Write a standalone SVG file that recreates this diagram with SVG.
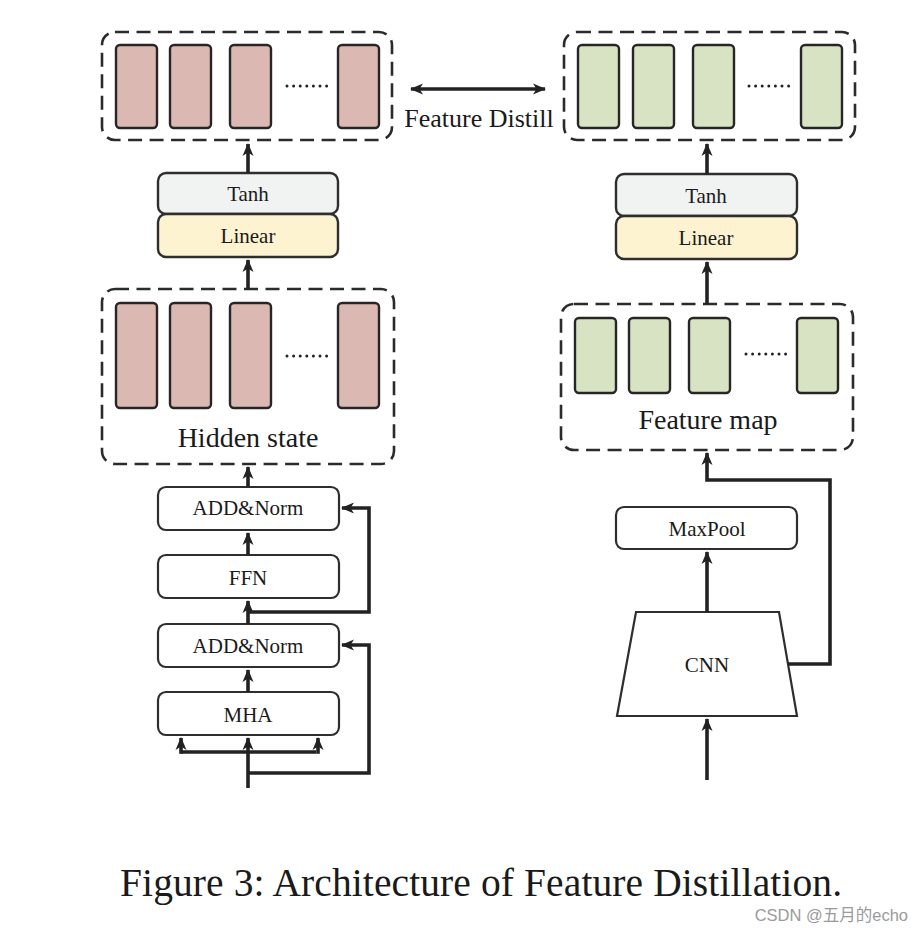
<svg xmlns="http://www.w3.org/2000/svg" width="923" height="928" viewBox="0 0 923 928">
<style>
.dash{fill:none;stroke:#2b2b2b;stroke-width:2.6;stroke-dasharray:14 7.5}
.pink{fill:#dcb8b2;stroke:#262626;stroke-width:2.4}
.green{fill:#d8e3c3;stroke:#262626;stroke-width:2.4}
.box{fill:#ffffff;stroke:#2e2e2e;stroke-width:2.2}
.tanh{fill:#f1f3f2;stroke:#2e2e2e;stroke-width:2.4}
.lin{fill:#fdf3d1;stroke:#2e2e2e;stroke-width:2.4}
.t{font-family:"Liberation Serif","Times New Roman",serif;fill:#1a1a1a;text-anchor:middle}
.s{font-size:21px}
.l{font-size:26px}
.xl{font-size:28px}
.dots{fill:none;stroke:#222;stroke-width:3;stroke-linecap:round;stroke-dasharray:0 6.6}
.c{fill:none;stroke:#222;stroke-width:3.6}
</style>
<defs>
<marker id="ah" viewBox="0 0 13 13" refX="12" refY="6.5" markerWidth="13" markerHeight="13" markerUnits="userSpaceOnUse" orient="auto-start-reverse">
<path d="M0,1 L13,6.5 L0,12 L3.5,6.5 z" fill="#222"/>
</marker>
</defs>
<rect width="923" height="928" fill="#ffffff"/>

<g id="teacher-output">
<rect class="dash" x="102" y="32" width="290" height="108" rx="13"/>
<rect class="pink" x="116" y="45" width="41" height="83" rx="4"/>
<rect class="pink" x="170" y="45" width="41" height="83" rx="4"/>
<rect class="pink" x="230" y="45" width="41" height="83" rx="4"/>
<rect class="pink" x="338" y="45" width="41" height="83" rx="4"/>
<path class="dots" d="M287,86 L327,86"/>
</g>

<g id="student-output">
<rect class="dash" x="564" y="32" width="291" height="108" rx="13"/>
<rect class="green" x="578" y="45" width="41" height="83" rx="4"/>
<rect class="green" x="633" y="45" width="41" height="83" rx="4"/>
<rect class="green" x="693" y="45" width="41" height="83" rx="4"/>
<rect class="green" x="801" y="45" width="41" height="83" rx="4"/>
<path class="dots" d="M749,86 L789,86"/>
</g>

<g id="feature-distill-label">
<text class="t l" x="479" y="127">Feature Distill</text>
</g>

<g id="left-tanh">
<rect class="tanh" x="158" y="173" width="180" height="41" rx="8"/>
<text class="t s" x="248" y="201">Tanh</text>
</g>
<g id="left-linear">
<rect class="lin" x="158" y="214" width="180" height="43" rx="8"/>
<text class="t s" x="248" y="243">Linear</text>
</g>

<g id="right-tanh">
<rect class="tanh" x="616" y="174" width="181" height="42" rx="8"/>
<text class="t s" x="706" y="203">Tanh</text>
</g>
<g id="right-linear">
<rect class="lin" x="616" y="216" width="181" height="43" rx="8"/>
<text class="t s" x="706" y="245">Linear</text>
</g>

<g id="hidden-state">
<rect class="dash" x="102" y="289" width="292" height="175" rx="13"/>
<rect class="pink" x="116" y="303" width="41" height="105" rx="4"/>
<rect class="pink" x="170" y="303" width="41" height="105" rx="4"/>
<rect class="pink" x="230" y="303" width="41" height="105" rx="4"/>
<rect class="pink" x="338" y="303" width="41" height="105" rx="4"/>
<path class="dots" d="M287,356 L327,356"/>
<text class="t xl" x="248" y="447">Hidden state</text>
</g>

<g id="feature-map">
<rect class="dash" x="561" y="304" width="292" height="146" rx="13"/>
<rect class="green" x="575" y="318" width="41" height="75" rx="4"/>
<rect class="green" x="629" y="318" width="41" height="75" rx="4"/>
<rect class="green" x="689" y="318" width="41" height="75" rx="4"/>
<rect class="green" x="797" y="318" width="41" height="75" rx="4"/>
<path class="dots" d="M746,354 L786,354"/>
<text class="t xl" x="708" y="429">Feature map</text>
</g>

<g id="add-norm-2">
<rect class="box" x="158" y="487" width="181" height="43" rx="8"/>
<text class="t s" x="248" y="515">ADD&amp;Norm</text>
</g>
<g id="ffn">
<rect class="box" x="158" y="555" width="181" height="43" rx="8"/>
<text class="t s" x="248" y="585">FFN</text>
</g>
<g id="add-norm-1">
<rect class="box" x="158" y="624" width="181" height="43" rx="8"/>
<text class="t s" x="248" y="653">ADD&amp;Norm</text>
</g>
<g id="mha">
<rect class="box" x="158" y="692" width="181" height="43" rx="8"/>
<text class="t s" x="248" y="722">MHA</text>
</g>

<g id="maxpool">
<rect class="box" x="616" y="507" width="181" height="42" rx="8"/>
<text class="t s" x="707" y="536">MaxPool</text>
</g>
<g id="cnn">
<path class="box" d="M636,612 L779,612 L797,716 L617,716 Z"/>
<text class="t s" x="707" y="672">CNN</text>
</g>

<g id="connectors">
<path class="c" d="M411,89 L545,89" marker-start="url(#ah)" marker-end="url(#ah)"/>
<path class="c" d="M248,173 L248,144" marker-end="url(#ah)"/>
<path class="c" d="M707,174 L707,144" marker-end="url(#ah)"/>
<path class="c" d="M248,289 L248,260" marker-end="url(#ah)"/>
<path class="c" d="M707,304 L707,262" marker-end="url(#ah)"/>
<path class="c" d="M248,487 L248,467" marker-end="url(#ah)"/>
<path class="c" d="M248,555 L248,533" marker-end="url(#ah)"/>
<path class="c" d="M248,624 L248,601" marker-end="url(#ah)"/>
<path class="c" d="M248,692 L248,670" marker-end="url(#ah)"/>
<path class="c" d="M248,612 L369,612 L369,508 L342,508" marker-end="url(#ah)"/>
<path class="c" d="M248,788 L248,738" marker-end="url(#ah)"/>
<path class="c" d="M248,773 L369,773 L369,645 L342,645" marker-end="url(#ah)"/>
<path class="c" d="M181,752 L316,752"/>
<path class="c" d="M181,753.8 L181,738" marker-end="url(#ah)"/>
<path class="c" d="M318,753.8 L318,738" marker-end="url(#ah)"/>
<path class="c" d="M707,612 L707,552" marker-end="url(#ah)"/>
<path class="c" d="M707,780 L707,719" marker-end="url(#ah)"/>
<path class="c" d="M788,664 L830,664 L830,480 L707,480 L707,453" marker-end="url(#ah)"/>
</g>

<g id="caption">
<text x="120" y="896" font-family="Liberation Serif,'Times New Roman',serif" font-size="39.5" fill="#1a1a1a" textLength="722" lengthAdjust="spacing">Figure 3: Architecture of Feature Distillation.</text>
<text x="908" y="921" text-anchor="end" font-family="'Liberation Sans','Noto Sans CJK SC',sans-serif" font-size="16.5" fill="#9a9a9a">CSDN @五月的echo</text>
</g>
</svg>
